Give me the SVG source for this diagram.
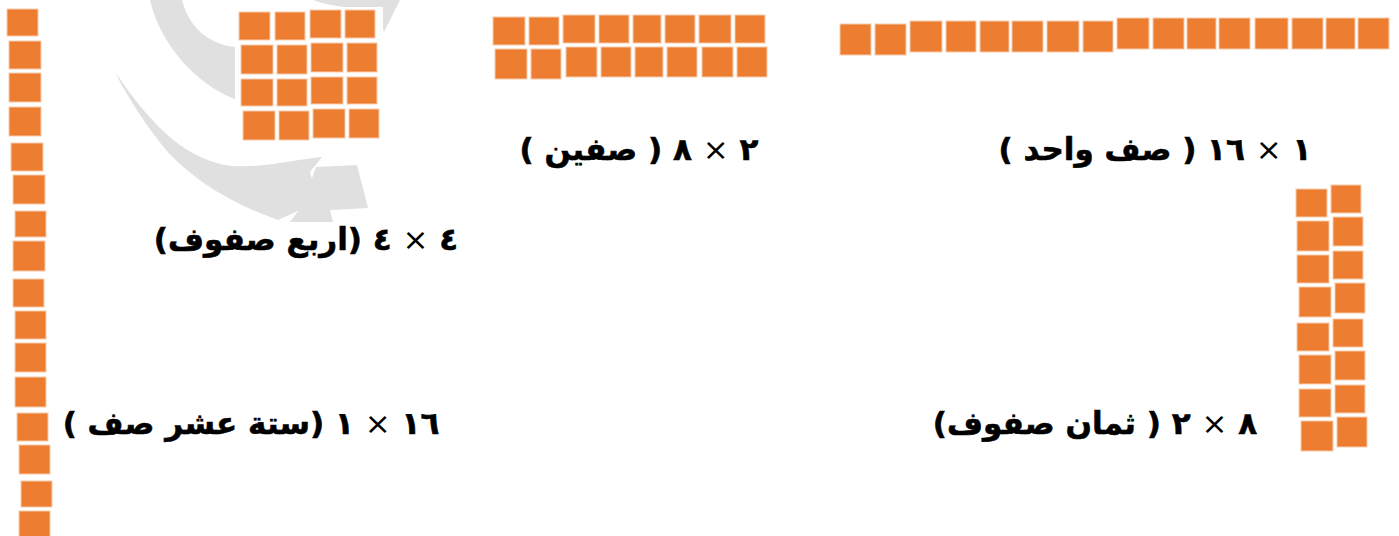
<svg xmlns="http://www.w3.org/2000/svg" width="1399" height="536" viewBox="0 0 1399 536">
<style>
.sq{fill:#ED7D31;stroke:#F8CBAD;stroke-width:1}
.wm{fill:#E0E0E0}
.lbl{font-family:"DejaVu Sans",sans-serif;font-weight:bold;font-size:31px;fill:#000;stroke:#000;stroke-width:0.6;direction:rtl;text-anchor:middle}
.x{font-weight:normal;stroke-width:0}
</style>
<rect width="1399" height="536" fill="#fff"/>
<g id="watermark">
<path class="wm" d="M150,0 L182,0 C188,25 207,45 237,47 L237,100 C198,86 160,45 150,0 Z"/>
<path class="wm" d="M313,0 L400,0 L384,32 L378,10 C360,8 335,8 313,0 Z"/>
<path class="wm" d="M115,72 C145,115 180,160 232,166 C265,168 290,160 322,157 L310,172 L318,200 L300,210 L278,220 C238,206 188,180 158,140 C143,120 126,95 115,72 Z"/>
<path class="wm" d="M316,167 L357,165 L368,208 L330,210 L333,222 L290,222 L302,206 Z"/>
</g>
<g id="connectors"/>
<g id="row-1x16">
<rect class="sq" x="840" y="24" width="31" height="31"/>
<rect class="sq" x="875" y="24" width="31" height="31"/>
<rect class="sq" x="910" y="21" width="32" height="31"/>
<rect class="sq" x="946" y="21" width="30" height="31"/>
<rect class="sq" x="980" y="21" width="29" height="31"/>
<rect class="sq" x="1012" y="21" width="31" height="31"/>
<rect class="sq" x="1047" y="21" width="32" height="31"/>
<rect class="sq" x="1083" y="21" width="30" height="31"/>
<rect class="sq" x="1117" y="18" width="32" height="31"/>
<rect class="sq" x="1153" y="18" width="31" height="31"/>
<rect class="sq" x="1187" y="18" width="29" height="31"/>
<rect class="sq" x="1219" y="18" width="31" height="31"/>
<rect class="sq" x="1255" y="18" width="33" height="31"/>
<rect class="sq" x="1292" y="18" width="31" height="31"/>
<rect class="sq" x="1326" y="18" width="29" height="31"/>
<rect class="sq" x="1358" y="18" width="31" height="31"/>
</g>
<g id="block-2x8">
<rect class="sq" x="493" y="17" width="32" height="28"/>
<rect class="sq" x="529" y="17" width="30" height="28"/>
<rect class="sq" x="563" y="15" width="32" height="28"/>
<rect class="sq" x="599" y="15" width="30" height="28"/>
<rect class="sq" x="633" y="15" width="28" height="28"/>
<rect class="sq" x="665" y="15" width="30" height="28"/>
<rect class="sq" x="699" y="15" width="32" height="28"/>
<rect class="sq" x="735" y="15" width="30" height="28"/>
<rect class="sq" x="495" y="49" width="32" height="30"/>
<rect class="sq" x="531" y="49" width="30" height="30"/>
<rect class="sq" x="566" y="47" width="31" height="30"/>
<rect class="sq" x="601" y="47" width="30" height="30"/>
<rect class="sq" x="635" y="47" width="28" height="30"/>
<rect class="sq" x="667" y="47" width="30" height="30"/>
<rect class="sq" x="702" y="47" width="31" height="30"/>
<rect class="sq" x="737" y="47" width="30" height="30"/>
</g>
<g id="block-4x4">
<rect x="235" y="7" width="148" height="137" fill="#fff"/>
<rect class="sq" x="239" y="12" width="31" height="28"/>
<rect class="sq" x="275" y="12" width="30" height="28"/>
<rect class="sq" x="310" y="10" width="31" height="28"/>
<rect class="sq" x="345" y="10" width="30" height="28"/>
<rect class="sq" x="241" y="45" width="32" height="29"/>
<rect class="sq" x="277" y="45" width="30" height="29"/>
<rect class="sq" x="311" y="43" width="32" height="29"/>
<rect class="sq" x="347" y="43" width="30" height="29"/>
<rect class="sq" x="241" y="79" width="32" height="27"/>
<rect class="sq" x="277" y="79" width="30" height="27"/>
<rect class="sq" x="311" y="77" width="32" height="27"/>
<rect class="sq" x="347" y="77" width="30" height="27"/>
<rect class="sq" x="243" y="111" width="32" height="29"/>
<rect class="sq" x="279" y="111" width="30" height="29"/>
<rect class="sq" x="313" y="109" width="32" height="29"/>
<rect class="sq" x="349" y="109" width="30" height="29"/>
</g>
<g id="column-16x1">
<rect class="sq" x="7" y="9" width="31" height="27"/>
<rect class="sq" x="9" y="41" width="32" height="28"/>
<rect class="sq" x="9" y="73" width="32" height="29"/>
<rect class="sq" x="9" y="107" width="32" height="29"/>
<rect class="sq" x="11" y="143" width="32" height="28"/>
<rect class="sq" x="13" y="175" width="32" height="29"/>
<rect class="sq" x="15" y="211" width="31" height="26"/>
<rect class="sq" x="13" y="241" width="32" height="30"/>
<rect class="sq" x="13" y="279" width="31" height="28"/>
<rect class="sq" x="15" y="311" width="31" height="28"/>
<rect class="sq" x="15" y="343" width="31" height="29"/>
<rect class="sq" x="15" y="377" width="31" height="30"/>
<rect class="sq" x="17" y="413" width="31" height="28"/>
<rect class="sq" x="19" y="445" width="31" height="29"/>
<rect class="sq" x="21" y="481" width="31" height="26"/>
<rect class="sq" x="19" y="511" width="31" height="28"/>
</g>
<g id="block-8x2">
<rect class="sq" x="1296" y="189" width="31" height="28"/>
<rect class="sq" x="1297" y="221" width="32" height="30"/>
<rect class="sq" x="1297" y="255" width="32" height="28"/>
<rect class="sq" x="1299" y="287" width="32" height="30"/>
<rect class="sq" x="1297" y="323" width="32" height="28"/>
<rect class="sq" x="1299" y="355" width="32" height="29"/>
<rect class="sq" x="1299" y="389" width="32" height="28"/>
<rect class="sq" x="1301" y="421" width="32" height="30"/>
<rect class="sq" x="1331" y="185" width="30" height="28"/>
<rect class="sq" x="1333" y="217" width="30" height="29"/>
<rect class="sq" x="1333" y="251" width="30" height="28"/>
<rect class="sq" x="1335" y="283" width="30" height="30"/>
<rect class="sq" x="1333" y="319" width="30" height="28"/>
<rect class="sq" x="1335" y="351" width="30" height="29"/>
<rect class="sq" x="1335" y="385" width="30" height="28"/>
<rect class="sq" x="1337" y="417" width="30" height="30"/>
</g>
<g id="label-1x16"><text class="lbl" x="1155" y="160">١ <tspan class="x">×</tspan> ١٦ ( صف واحد )</text></g>
<g id="label-2x8"><text class="lbl" x="639" y="160">٢ <tspan class="x">×</tspan> ٨ ( صفين )</text></g>
<g id="label-4x4"><text class="lbl" x="306" y="250">٤ <tspan class="x">×</tspan> ٤ (اربع صفوف)</text></g>
<g id="label-16x1"><text class="lbl" x="251" y="434">١٦ <tspan class="x">×</tspan> ١ (ستة عشر صف )</text></g>
<g id="label-8x2"><text class="lbl" x="1095" y="434">٨ <tspan class="x">×</tspan> ٢ ( ثمان صفوف)</text></g>
</svg>
